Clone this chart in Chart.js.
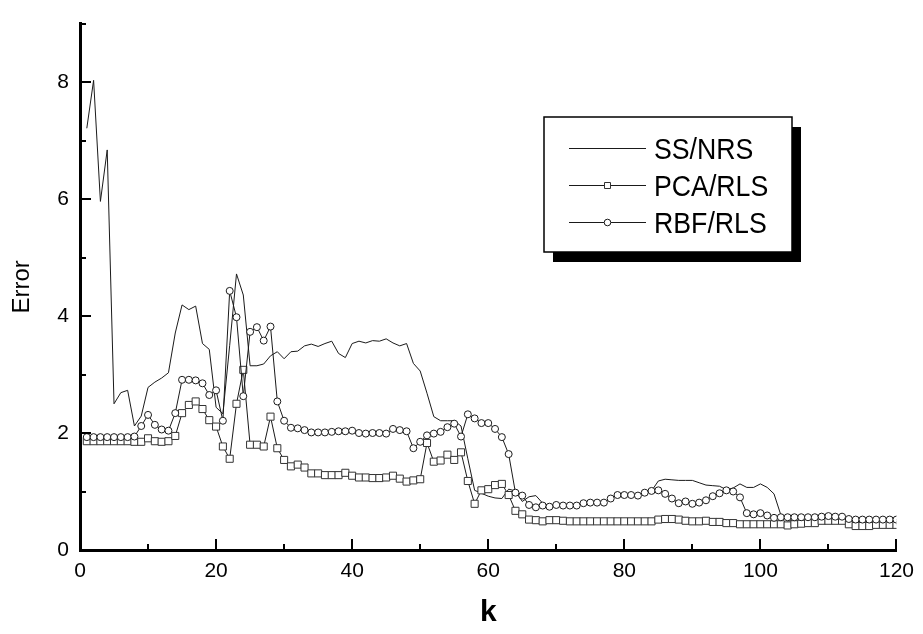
<!DOCTYPE html>
<html>
<head>
<meta charset="utf-8">
<script src="https://cdn.jsdelivr.net/npm/chart.js@4.4.0/dist/chart.umd.min.js"></script>
<style>
html,body{margin:0;padding:0;background:#fff;}
#wrap{width:923px;height:634px;}
</style>
</head>
<body>
<div id="wrap"><canvas id="chart" width="923" height="634"></canvas></div>
<script>
// values, k = 1..120
var ssNrs = [
  7.21, 8.03, 5.96, 6.84, 2.50, 2.69, 2.73, 2.12, 2.29, 2.78,
  2.87, 2.94, 3.03, 3.71, 4.19, 4.11, 4.17, 3.53, 3.43, 2.44,
  2.33, 3.50, 4.72, 4.36, 3.15, 3.15, 3.18, 3.32, 3.39, 3.27,
  3.39, 3.40, 3.49, 3.52, 3.48, 3.53, 3.57, 3.36, 3.29, 3.53,
  3.57, 3.54, 3.58, 3.57, 3.61, 3.54, 3.49, 3.53, 3.19, 3.06,
  2.68, 2.28, 2.21, 2.21, 2.21, 2.12, 1.56, 1.02, 0.97, 0.92,
  0.89, 0.88, 1.04, 1.01, 0.83, 0.91, 0.93, 0.80, 0.76, 0.77,
  0.76, 0.76, 0.76, 0.80, 0.81, 0.80, 0.81, 0.88, 0.94, 0.94,
  0.94, 0.93, 0.98, 1.01, 1.18, 1.21, 1.20, 1.19, 1.19, 1.19,
  1.15, 1.11, 1.10, 1.09, 1.03, 1.06, 1.13, 1.07, 1.07, 1.13,
  1.07, 0.96, 0.60, 0.50, 0.50, 0.50, 0.51, 0.51, 0.52, 0.53,
  0.53, 0.53, 0.48, 0.46, 0.46, 0.46, 0.47, 0.47, 0.47, 0.47
];
var pcaRls = [
  1.86, 1.86, 1.86, 1.86, 1.86, 1.86, 1.86, 1.85, 1.85, 1.91,
  1.86, 1.85, 1.86, 1.95, 2.34, 2.48, 2.54, 2.41, 2.22, 2.11,
  1.77, 1.56, 2.50, 3.08, 1.80, 1.80, 1.77, 2.28, 1.74, 1.54,
  1.43, 1.46, 1.41, 1.31, 1.31, 1.28, 1.28, 1.28, 1.32, 1.27,
  1.24, 1.24, 1.23, 1.23, 1.24, 1.27, 1.22, 1.17, 1.19, 1.21,
  1.83, 1.51, 1.53, 1.63, 1.54, 1.67, 1.18, 0.79, 1.02, 1.04,
  1.11, 1.13, 0.94, 0.67, 0.61, 0.52, 0.51, 0.49, 0.51, 0.51,
  0.50, 0.49, 0.49, 0.49, 0.49, 0.49, 0.49, 0.49, 0.49, 0.49,
  0.49, 0.49, 0.49, 0.49, 0.52, 0.53, 0.53, 0.52, 0.50, 0.49,
  0.49, 0.50, 0.48, 0.48, 0.46, 0.46, 0.44, 0.44, 0.44, 0.44,
  0.44, 0.44, 0.44, 0.42, 0.44, 0.45, 0.46, 0.46, 0.50, 0.50,
  0.50, 0.50, 0.44, 0.41, 0.41, 0.41, 0.43, 0.43, 0.43, 0.43
];
var rbfRls = [
  1.93, 1.93, 1.93, 1.93, 1.93, 1.93, 1.93, 1.94, 2.12, 2.31,
  2.14, 2.06, 2.04, 2.34, 2.91, 2.91, 2.90, 2.85, 2.65, 2.73,
  2.21, 4.43, 3.98, 2.63, 3.73, 3.81, 3.58, 3.82, 2.54, 2.21,
  2.09, 2.08, 2.05, 2.01, 2.01, 2.01, 2.02, 2.03, 2.03, 2.04,
  2.00, 1.99, 2.00, 2.00, 1.99, 2.07, 2.05, 2.03, 1.74, 1.85,
  1.96, 1.99, 2.02, 2.10, 2.16, 1.94, 2.32, 2.25, 2.17, 2.17,
  2.07, 1.93, 1.64, 0.98, 0.93, 0.77, 0.73, 0.76, 0.74, 0.77,
  0.76, 0.76, 0.76, 0.80, 0.81, 0.81, 0.81, 0.88, 0.94, 0.94,
  0.94, 0.93, 0.98, 1.01, 1.02, 0.96, 0.88, 0.80, 0.83, 0.79,
  0.81, 0.85, 0.92, 0.97, 1.02, 1.00, 0.90, 0.63, 0.61, 0.63,
  0.59, 0.55, 0.56, 0.56, 0.56, 0.56, 0.56, 0.56, 0.57, 0.58,
  0.57, 0.57, 0.53, 0.52, 0.52, 0.52, 0.52, 0.52, 0.52, 0.52
];
var seriesNames = ['SS/NRS', 'PCA/RLS', 'RBF/RLS'];
var xTickStep = 20, yTickStep = 2;

var FONT = "'Liberation Sans', Arial, sans-serif";
var INK = '#1a1a1a';

var toPoints = function (arr) {
  return arr.map(function (v, i) { return { x: i + 1, y: v }; });
};

// ticks drawn inward, long on labelled values, short in between
var innerTicks = {
  id: 'innerTicks',
  afterDraw: function (chart) {
    var ctx = chart.ctx, xs = chart.scales.x, ys = chart.scales.y;
    var bottom = chart.chartArea.bottom, left = chart.chartArea.left;
    ctx.save();
    ctx.strokeStyle = '#000';
    ctx.lineWidth = 2;
    var v, p, len;
    for (v = xs.min; v <= xs.max; v += xTickStep / 2) {
      p = Math.round(xs.getPixelForValue(v));
      len = (v % xTickStep === 0) ? 11 : 6;
      ctx.beginPath(); ctx.moveTo(p, bottom); ctx.lineTo(p, bottom - len); ctx.stroke();
    }
    for (v = ys.min; v <= ys.max; v += yTickStep / 2) {
      p = Math.round(ys.getPixelForValue(v));
      len = (v % yTickStep === 0) ? 11 : 6;
      ctx.beginPath(); ctx.moveTo(left, p); ctx.lineTo(left + len, p); ctx.stroke();
    }
    ctx.restore();
  }
};

// boxed legend with drop shadow, rows in the order of seriesNames
var boxLegend = {
  id: 'boxLegend',
  afterDraw: function (chart) {
    var ctx = chart.ctx;
    var bx = 544, by = 117, bw = 248, bh = 135;
    ctx.save();
    ctx.fillStyle = '#000';
    ctx.fillRect(bx + 9, by + 10, bw, bh);
    ctx.fillStyle = '#fff';
    ctx.fillRect(bx, by, bw, bh);
    ctx.strokeStyle = '#000';
    ctx.lineWidth = 1.5;
    ctx.strokeRect(bx, by, bw, bh);
    var rows = [148, 185, 222];
    seriesNames.forEach(function (name, i) {
      var ry = rows[i];
      var ds = chart.data.datasets.filter(function (d) { return d.label === name; })[0];
      ctx.strokeStyle = ds.borderColor;
      ctx.lineWidth = 1;
      ctx.beginPath(); ctx.moveTo(569, ry + 0.5); ctx.lineTo(646, ry + 0.5); ctx.stroke();
      if (ds.pointRadius > 0) {
        ctx.fillStyle = '#fff';
        ctx.strokeStyle = ds.pointBorderColor;
        ctx.beginPath();
        if (ds.pointStyle === 'rect') { ctx.rect(604.5, ry - 2.5, 6, 6); }
        else { ctx.arc(607.5, ry + 0.5, 3.3, 0, Math.PI * 2); }
        ctx.fill(); ctx.stroke();
      }
      ctx.save();
      ctx.translate(654, ry + 11);
      ctx.scale(0.89, 1);
      ctx.fillStyle = '#000';
      ctx.font = '30px ' + FONT;
      ctx.textBaseline = 'alphabetic';
      ctx.fillText(name, 0, 0);
      ctx.restore();
    });
    ctx.restore();
  }
};

var ctx = document.getElementById('chart').getContext('2d');
var chart = new Chart(ctx, {
  type: 'line',
  data: {
    datasets: [
      {
        label: seriesNames[2], data: toPoints(rbfRls), order: 1,
        borderColor: INK, borderWidth: 1, backgroundColor: '#fff',
        pointStyle: 'circle', pointRadius: 3.5, pointBorderWidth: 1,
        pointBackgroundColor: '#fff', pointBorderColor: INK, tension: 0
      },
      {
        label: seriesNames[1], data: toPoints(pcaRls), order: 2,
        borderColor: INK, borderWidth: 1, backgroundColor: '#fff',
        pointStyle: 'rect', pointRadius: 5, pointBorderWidth: 1,
        pointBackgroundColor: '#fff', pointBorderColor: '#333', tension: 0
      },
      {
        label: seriesNames[0], data: toPoints(ssNrs), order: 3,
        borderColor: INK, borderWidth: 1, pointRadius: 0, tension: 0
      }
    ]
  },
  options: {
    responsive: false,
    animation: false,
    layout: { padding: { top: 11, right: 21, left: 0, bottom: 0 } },
    plugins: { legend: { display: false }, tooltip: { enabled: false } },
    scales: {
      x: {
        type: 'linear', min: 0, max: 120,
        grid: { display: false, drawTicks: false },
        border: { display: true, width: 3, color: '#000' },
        ticks: { stepSize: xTickStep, padding: 9, color: '#000', maxRotation: 0,
                 font: { family: FONT, size: 21 } },
        title: { display: true, text: 'k', color: '#000',
                 font: { family: FONT, size: 30, weight: 'bold' }, padding: { top: 0, bottom: 3 } },
        afterFit: function (s) { s.height = 84; }
      },
      y: {
        min: 0, max: 9,
        grid: { display: false, drawTicks: false },
        border: { display: true, width: 3, color: '#000' },
        ticks: { stepSize: yTickStep, includeBounds: false, padding: 11, color: '#000',
                 font: { family: FONT, size: 21 } },
        title: { display: true, text: 'Error', color: '#000',
                 font: { family: FONT, size: 24 }, padding: { top: 8, bottom: 0 } },
        afterFit: function (s) { s.width = 80; }
      }
    }
  },
  plugins: [innerTicks, boxLegend]
});
</script>
</body>
</html>
